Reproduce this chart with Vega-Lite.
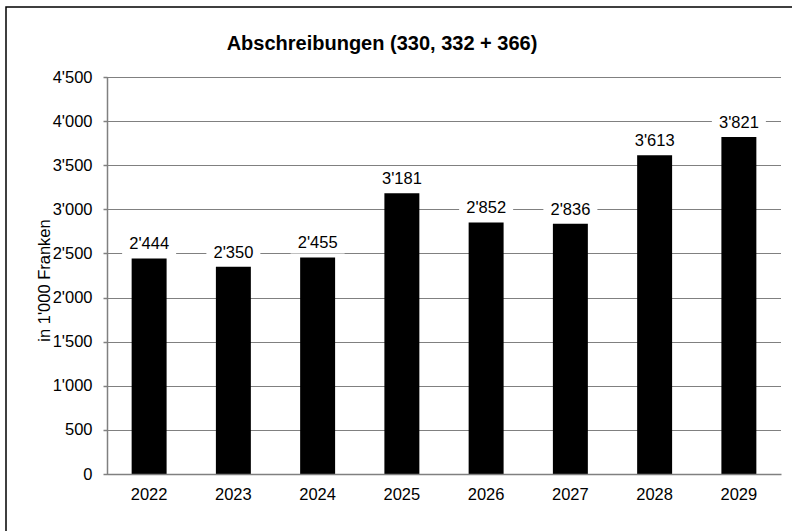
{
  "$schema": "https://vega.github.io/schema/vega-lite/v6.json",
  "autosize": "none",
  "width": 800,
  "height": 530,
  "padding": {"left": 6, "top": 7, "right": 0, "bottom": 0},
  "background": "white",
  "config": {
    "locale": {"number": {"decimal": ".", "thousands": "'", "grouping": [3], "currency": ["", ""]}},
    "view": {"stroke": "#000", "strokeWidth": 1.5},
    "font": "Liberation Sans"
  },
  "title": {
    "text": "Abschreibungen (330, 332 + 366)",
    "font": "Liberation Sans",
    "fontSize": 20,
    "fontWeight": "bold",
    "color": "#000",
    "anchor": "middle",
    "frame": "group",
    "orient": "top",
    "baseline": "alphabetic",
    "offset": -63,
    "dx": -24
  },
  "data": {
    "values": [
      {"year": "2022", "value": 2444},
      {"year": "2023", "value": 2350},
      {"year": "2024", "value": 2455},
      {"year": "2025", "value": 3181},
      {"year": "2026", "value": 2852},
      {"year": "2027", "value": 2836},
      {"year": "2028", "value": 3613},
      {"year": "2029", "value": 3821}
    ]
  },
  "encoding": {
    "x": {
      "field": "year",
      "type": "ordinal",
      "scale": {"range": [101, 775], "paddingInner": 0.585, "paddingOuter": 0.2925},
      "axis": {
        "title": null,
        "offset": -63,
        "ticks": false,
        "tickSize": 0,
        "labelPadding": 12,
        "labelAngle": 0,
        "labelFontSize": 16.5,
        "labelColor": "#000",
        "domainColor": "#808080",
        "domainWidth": 1.5,
        "grid": false,
        "zindex": 1
      }
    },
    "y": {
      "field": "value",
      "type": "quantitative",
      "scale": {"domain": [0, 4500], "range": [467, 70], "nice": false, "zero": true},
      "axis": {
        "title": "in 1'000 Franken",
        "values": [0, 500, 1000, 1500, 2000, 2500, 3000, 3500, 4000, 4500],
        "format": ",.0f",
        "offset": -101,
        "grid": true,
        "gridColor": "#000",
        "gridDash": [1, 1],
        "gridWidth": 1,
        "domainColor": "#808080",
        "domainWidth": 1.5,
        "tickColor": "#808080",
        "tickSize": 4,
        "tickWidth": 1.5,
        "labelPadding": 11,
        "labelFontSize": 16.5,
        "labelColor": "#000",
        "titleFontSize": 16.5,
        "titleFontWeight": "normal",
        "titleColor": "#000",
        "titleAngle": 270,
        "titleBaseline": "alphabetic",
        "titleAlign": "center",
        "titleX": -58,
        "titleY": 273
      }
    }
  },
  "layer": [
    {"mark": {"type": "bar", "color": "#000"}},
    {"mark": {"type": "tick", "color": "#fff", "size": 54, "thickness": 22, "yOffset": -15, "opacity": 1}},
    {
      "mark": {"type": "text", "baseline": "alphabetic", "dy": -9, "fontSize": 16.5, "color": "#000"},
      "encoding": {"text": {"field": "value", "type": "quantitative", "format": ",.0f"}}
    }
  ]
}
